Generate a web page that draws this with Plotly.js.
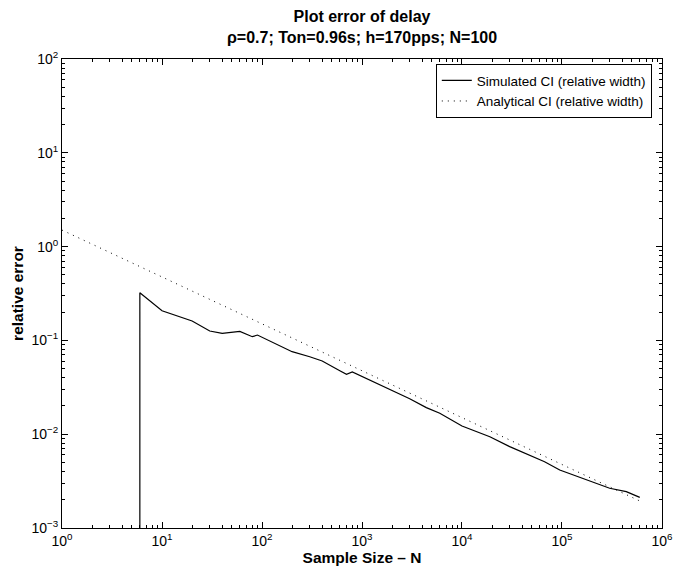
<!DOCTYPE html>
<html>
<head>
<meta charset="utf-8">
<script src="https://cdn.plot.ly/plotly-3.0.1.min.js"></script>
<style>html,body{margin:0;padding:0;background:#fff}#chart{width:673px;height:569px}</style>
</head>
<body>
<div id="chart"></div>
<script>
// Simulated CI (relative width)
var simN = [6, 6, 10, 20, 30, 40, 60, 80, 90, 200, 300, 400, 600, 700, 800, 2000, 3000, 4400, 6000, 10000, 19000, 30000, 44000, 60000, 67000, 95000, 300000, 440000, 600000];
var simErr = [0.0001, 0.3225, 0.207, 0.161, 0.126, 0.119, 0.1245, 0.1095, 0.114, 0.0758, 0.067, 0.0603, 0.0475, 0.0435, 0.046, 0.0296, 0.0239, 0.0192, 0.0167, 0.0122, 0.0094, 0.00736, 0.00615, 0.00531, 0.00509, 0.00415, 0.00265, 0.00244, 0.00212];
// Analytical CI (relative width)
var anaN = [1, 10, 100, 1000, 10000, 100000, 600000];
var anaErr = [1.5, 0.474, 0.15, 0.0474, 0.015, 0.00474, 0.00194];

var xTickVals = [1, 10, 100, 1000, 10000, 100000, 1000000];
var xTickText = ['10<sup>0</sup>', '10<sup>1</sup>', '10<sup>2</sup>', '10<sup>3</sup>', '10<sup>4</sup>', '10<sup>5</sup>', '10<sup>6</sup>'];
var yTickVals = [0.001, 0.01, 0.1, 1, 10, 100];
var yTickText = ['10<sup>−3</sup>', '10<sup>−2</sup>', '10<sup>−1</sup>', '10<sup>0</sup>', '10<sup>1</sup>', '10<sup>2</sup>'];

var font = 'Liberation Sans, Arial, Helvetica, sans-serif';

var traces = [
  {x: simN, y: simErr, type: 'scatter', mode: 'lines', name: 'Simulated CI (relative width)',
   line: {color: '#000', width: 1.2}},
  {x: anaN, y: anaErr, type: 'scatter', mode: 'lines', name: 'Analytical CI (relative width)',
   line: {color: '#000', width: 1, dash: '1px,5px'}}
];

var axisCommon = {
  type: 'log', showgrid: false, zeroline: false, showline: true, linecolor: '#000', linewidth: 1,
  mirror: 'ticks', ticks: 'inside', ticklen: 6, tickcolor: '#000', tickwidth: 1,
  tickmode: 'array', tickfont: {family: font, size: 14, color: '#000'}, ticklabeloverflow: 'allow',
  minor: {ticks: 'inside', ticklen: 3, dtick: 'D1', tickcolor: '#000', tickwidth: 1, showgrid: false}
};

var layout = {
  width: 673, height: 569,
  margin: {l: 62, r: 11, t: 59, b: 41},
  paper_bgcolor: '#fff', plot_bgcolor: '#fff',
  font: {family: font, color: '#000'},
  title: {text: '<b>Plot error of delay</b><br><b>ρ=0.7; Ton=0.96s; h=170pps; N=100</b>',
          font: {family: font, size: 16, color: '#000'}, x: 0.5, xref: 'paper', xanchor: 'center',
          y: 1, yref: 'paper', yanchor: 'bottom', pad: {b: 37}},
  xaxis: Object.assign({}, axisCommon, {range: [-0.0005, 6.0005], tickvals: xTickVals, ticktext: xTickText,
    title: {text: '<b>Sample Size – N</b>', font: {family: font, size: 15.5, color: '#000'}, standoff: 3}}),
  yaxis: Object.assign({}, axisCommon, {range: [-3.0005, 2.0005], tickvals: yTickVals, ticktext: yTickText,
    title: {text: '<b>relative error</b>', font: {family: font, size: 15.5, color: '#000'}, standoff: 4}}),
  showlegend: true,
  legend: {x: 0.983, y: 0.989, xanchor: 'right', yanchor: 'top', bgcolor: '#fff', bordercolor: '#000', borderwidth: 1,
           font: {family: font, size: 13.5, color: '#000'}, tracegroupgap: 0}
};

Plotly.newPlot('chart', traces, layout, {staticPlot: true, displayModeBar: false});
</script>
</body>
</html>
